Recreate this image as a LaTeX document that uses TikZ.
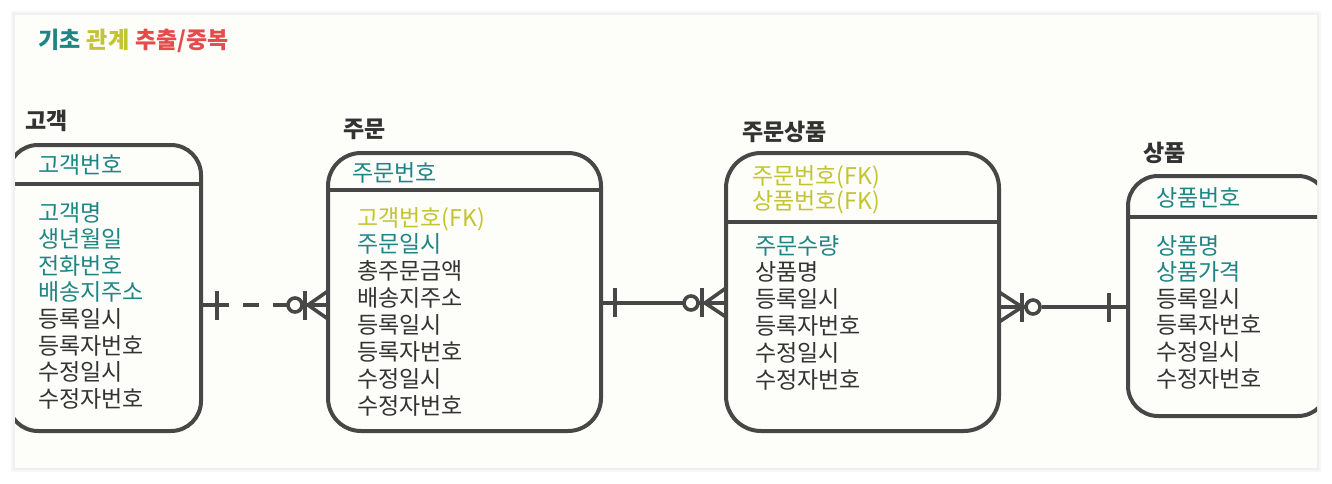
\documentclass[tikz,border=0pt]{standalone}
\usepackage{fontspec}
\setmainfont{Noto Sans CJK KR}
\usetikzlibrary{calc}
\definecolor{panelc}{HTML}{FDFDF9}
\definecolor{linec}{HTML}{474747}
\definecolor{tealc}{HTML}{1E8585}
\definecolor{olivec}{HTML}{C3C431}
\definecolor{redc}{HTML}{E54B4B}
\definecolor{darkc}{HTML}{333333}
\tikzset{
  ebox/.style={draw=linec, fill=panelc, line width=4pt, inner sep=0pt, outer sep=0pt, anchor=north west},
  eline/.style={draw=linec, line width=4pt},
  cline/.style={draw=linec, line width=3.6pt},
  txt/.style={anchor=base west, inner sep=0pt, font=\fontsize{23}{23}\selectfont, text=darkc},
  ttl/.style={anchor=base west, inner sep=0pt, font=\fontsize{23}{23}\selectfont\bfseries, text=darkc},
  pk/.style={txt, text=tealc},
  fk/.style={txt, text=olivec},
}
\begin{document}
\begin{tikzpicture}[x=1pt,y=-1pt]
\useasboundingbox (0,0) rectangle (1332,484);
\fill[white] (0,0) rectangle (1332,484);
\fill[black!3] (11,11) rectangle (1321,472);
\fill[black!6] (13,13) rectangle (1319,470);
\fill[panelc] (15,15) rectangle (1317,468);

% legend
\node[ttl, text=tealc] (lg1) at (38,49) {기초};
\node[ttl, text=olivec] (lg2) at ([xshift=6pt]lg1.base east) {관계};
\node[ttl, text=redc] (lg3) at ([xshift=6pt]lg2.base east) {추출/중복};

\begin{scope}
\clip (15,15) rectangle (1317,468);

% ---------- 고객 ----------
\node[ttl] (tcust) at (25,129) {고객};
\node[ebox, rounded corners=30pt, minimum width=193pt, minimum height=286pt] (cust) at (8,145) {};
\draw[eline] (cust.west |- 0,184) -- (cust.east |- 0,184);
\node[pk] (c0) at (38,173) {고객번호};
\node[pk] (c1) at (38,221) {고객명};
\node[pk] (c2) at (38,247.6) {생년월일};
\node[pk] (c3) at (38,274.2) {전화번호};
\node[pk] (c4) at (38,300.8) {배송지주소};
\node[txt] (c5) at (38,327.4) {등록일시};
\node[txt] (c6) at (38,354) {등록자번호};
\node[txt] (c7) at (38,380.6) {수정일시};
\node[txt] (c8) at (38,407.2) {수정자번호};

% ---------- 주문 ----------
\node[ttl] (tord) at (343,138) {주문};
\node[ebox, rounded corners=33pt, minimum width=273pt, minimum height=278pt] (ord) at (328,153) {};
\draw[eline] (ord.west |- 0,190) -- (ord.east |- 0,190);
\node[pk] (o0) at (352,181) {주문번호};
\node[fk] (o1) at (357,226) {고객번호(FK)};
\node[pk] (o2) at (357,252.9) {주문일시};
\node[txt] (o3) at (357,279.8) {총주문금액};
\node[txt] (o4) at (357,306.7) {배송지주소};
\node[txt] (o5) at (357,333.6) {등록일시};
\node[txt] (o6) at (357,360.5) {등록자번호};
\node[txt] (o7) at (357,387.4) {수정일시};
\node[txt] (o8) at (357,414.3) {수정자번호};

% ---------- 주문상품 ----------
\node[ttl] (top) at (742,140) {주문상품};
\node[ebox, rounded corners=35pt, minimum width=273pt, minimum height=278pt] (op) at (726,153) {};
\draw[eline] (op.west |- 0,222) -- (op.east |- 0,222);
\node[fk] (p0) at (752,184) {주문번호(FK)};
\node[fk] (p1) at (752,209) {상품번호(FK)};
\node[pk] (p2) at (755,254) {주문수량};
\node[txt] (p3) at (755,280.8) {상품명};
\node[txt] (p4) at (755,307.6) {등록일시};
\node[txt] (p5) at (755,334.4) {등록자번호};
\node[txt] (p6) at (755,361.2) {수정일시};
\node[txt] (p7) at (755,388) {수정자번호};

% ---------- 상품 ----------
\node[ttl] (tprod) at (1143,161) {상품};
\node[ebox, rounded corners=30pt, minimum width=200pt, minimum height=240pt] (prod) at (1128,176) {};
\draw[eline] (prod.west |- 0,217) -- (prod.east |- 0,217);
\node[pk] (s0) at (1156,206) {상품번호};
\node[pk] (s1) at (1156,254) {상품명};
\node[pk] (s2) at (1156,280.6) {상품가격};
\node[txt] (s3) at (1156,307.2) {등록일시};
\node[txt] (s4) at (1156,333.8) {등록자번호};
\node[txt] (s5) at (1156,360.4) {수정일시};
\node[txt] (s6) at (1156,387) {수정자번호};

% ---------- 고객 -- 주문 (dashed, one to zero-or-many) ----------
\coordinate (a1) at (cust.east |- 0,305);
\coordinate (b1) at (ord.west |- 0,305);
\coordinate (k1) at ($(b1)+(-20,0)$);
\draw[cline, dash pattern=on 28pt off 14pt on 16pt off 14pt on 16pt off 14pt] (a1) -- ($(b1)+(-41,0)$);
\draw[cline] ($(a1)+(16,-14)$) -- ($(a1)+(16,15)$);
\draw[cline] ($(b1)+(-33,0)$) circle (7pt);
\draw[cline] ($(b1)+(-23,-14)$) -- ($(b1)+(-23,15)$);
\draw[cline] ($(b1)+(-26,0)$) -- (b1);
\draw[cline] ($(b1)+(0,-14)$) -- (k1) -- ($(b1)+(0,14)$);

% ---------- 주문 -- 주문상품 ----------
\coordinate (a2) at (ord.east |- 0,303);
\coordinate (b2) at (op.west |- 0,303);
\draw[cline] (a2) -- ($(b2)+(-43,0)$);
\draw[cline] ($(a2)+(14,-15)$) -- ($(a2)+(14,14)$);
\draw[cline] ($(b2)+(-35,0)$) circle (7pt);
\draw[cline] ($(b2)+(-24,-15)$) -- ($(b2)+(-24,14)$);
\draw[cline] ($(b2)+(-28,0)$) -- (b2);
\draw[cline] ($(b2)+(0,-15)$) -- ($(b2)+(-21,0)$) -- ($(b2)+(0,14)$);

% ---------- 주문상품 -- 상품 ----------
\coordinate (a3) at (op.east |- 0,307);
\coordinate (b3) at (prod.west |- 0,307);
\draw[cline] ($(a3)+(0,-15)$) -- ($(a3)+(23,0)$) -- ($(a3)+(0,15)$);
\draw[cline] (a3) -- ($(a3)+(26,0)$);
\draw[cline] ($(a3)+(23,-14)$) -- ($(a3)+(23,15)$);
\draw[cline] ($(a3)+(34,0)$) circle (7pt);
\draw[cline] ($(a3)+(43,0)$) -- (b3);
\draw[cline] ($(b3)+(-19,-14)$) -- ($(b3)+(-19,15)$);
\end{scope}
\end{tikzpicture}
\end{document}
